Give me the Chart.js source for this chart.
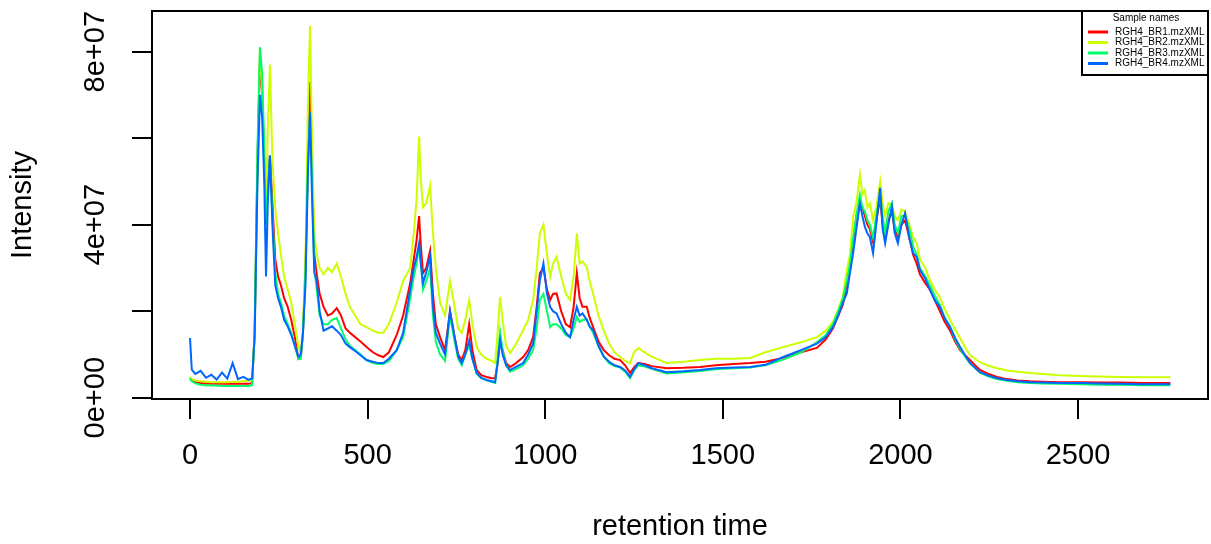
<!DOCTYPE html>
<html>
<head>
<meta charset="utf-8">
<title>Chromatogram</title>
<script src="https://cdn.jsdelivr.net/npm/chart.js@4.4.1/dist/chart.umd.min.js"></script>
<style>
  html, body { margin: 0; padding: 0; background: #fff; }
  canvas { display: block; }
</style>
</head>
<body>
<canvas id="chart" width="1211" height="544"></canvas>
<script>
// retention time in seconds
const retentionTime = [
  0, 5, 15, 30, 45, 60, 75, 90, 105, 120, 135, 150, 165, 175,
  182, 190, 197, 203, 209, 214, 219, 225, 232, 240, 248, 256, 265, 275, 285, 295, 305, 312,
  318, 325, 332, 338, 344, 350, 357, 365, 376, 388, 400, 413, 425, 438, 450, 465, 480, 497, 515, 530, 544, 560, 582, 600,
  620, 630, 638, 645, 650, 656, 665, 676, 684, 692, 704, 718, 732, 745, 755, 765, 775, 786, 795, 807, 820, 835, 850, 859,
  866, 873, 880, 890, 901, 915, 938, 952, 966, 976, 985, 995, 1005, 1014, 1022, 1032, 1045, 1058, 1070, 1080, 1089, 1097, 1105, 1117, 1125, 1135, 1150, 1165, 1180, 1195,
  1211, 1225, 1239, 1250, 1262, 1280, 1300, 1342, 1390, 1436, 1480, 1530, 1577, 1620, 1670, 1720, 1765, 1790, 1810, 1825, 1838, 1849, 1858,
  1867, 1876, 1886, 1893, 1900, 1907, 1914, 1923, 1932, 1943, 1950, 1957, 1966, 1976, 1984, 1993, 2003, 2013, 2025, 2036, 2046, 2055, 2070, 2083,
  2097, 2111, 2125, 2140, 2154, 2168, 2182, 2196, 2210, 2224, 2248, 2272, 2300, 2330, 2365, 2400, 2450, 2506, 2560, 2620, 2680, 2731, 2760
];

// intensities, in units of 1e6
const br1 = [
  4.5, 4.0, 3.6, 3.4, 3.3, 3.2, 3.2, 3.2, 3.2, 3.2, 3.2, 3.2, 3.2, 3.4,
  15, 55, 79, 70, 55, 40, 50, 56, 45, 32, 28, 26, 23, 21, 18, 14, 9, 9.5,
  15, 30, 55, 73, 52, 33, 28.4, 24, 21, 19, 19.5, 20.7, 19, 16, 15, 14, 13, 11.7, 10.5, 9.8, 9.4, 10.5, 14.5, 19,
  26.5, 32, 36.5, 42, 35, 28.8, 30, 34, 24, 17, 14, 11, 20, 14, 10, 8.7, 11, 17, 11, 6.4, 5.2, 4.8, 4.5, 4.5,
  8, 13.5, 11, 8, 7.1, 7.8, 9.4, 11, 14, 21, 28.8, 30, 25, 22.6, 24, 24.1, 20, 17, 16.3, 21, 28.8, 23, 21, 21, 18.5, 16.3, 13, 11, 9.8, 9,
  8.7, 7.5, 5.7, 7, 8, 7.8, 7.3, 6.8, 6.9, 7.1, 7.5, 7.8, 8, 8.3, 9.2, 10.5, 11.5, 13.5, 16, 19, 21.5, 26, 30,
  36, 42, 45, 44, 42, 40, 39, 36, 41, 46, 40, 37, 41, 43, 39, 37, 40, 41, 37, 33, 31, 28.5, 26.5, 25,
  22.5, 20, 17.5, 15.5, 13, 11, 9.8, 8.7, 7.5, 6.4, 5.5, 4.8, 4.3, 4.0, 3.8, 3.7, 3.6, 3.6, 3.5, 3.5, 3.4, 3.4, 3.4
];
const br2 = [
  4.8, 4.3, 4.0, 3.8, 3.7, 3.6, 3.6, 3.6, 3.6, 3.7, 3.7, 3.8, 3.9, 4.0,
  14, 52, 81, 72, 56, 42, 62, 77, 55, 44, 38, 33, 28, 25, 22, 17, 12, 10,
  16, 32, 68, 86, 58, 38, 33, 30, 28.5, 30, 29, 31, 28, 24, 21, 19, 17, 16.3, 15.5, 15, 15, 17, 22, 27,
  30, 38, 46, 60.4, 50, 44, 45, 49, 38, 30, 22, 19, 27, 21, 16, 15, 18, 22.6, 17, 11.7, 10, 9, 8.5, 8,
  15, 23.3, 18, 12, 10.3, 12, 15.6, 18, 22.6, 30, 38, 40, 33, 28, 31, 32.6, 28, 24, 22.6, 28, 38, 31, 31.5, 30.2, 27, 24.1, 19, 15.5, 12.5, 10.5,
  9.4, 8.5, 8, 10.5, 11.5, 10.5, 9.5, 8, 8.3, 8.7, 9, 9, 9.2, 10.5, 11.7, 12.8, 14, 15.5, 17.5, 20.5, 23.5, 29.5, 33,
  41.8, 45, 51.6, 47, 48, 44, 45, 41, 44, 50, 45, 42, 45, 44.5, 42, 41, 43.5, 43, 40, 37, 35.7, 32, 30, 27.2,
  25, 23.3, 20.5, 18, 15.8, 13.8, 11.8, 9.8, 9, 8.2, 7.4, 6.8, 6.3, 6.0, 5.7, 5.5, 5.2, 5.0, 4.9, 4.8, 4.7, 4.7, 4.7
];
const br3 = [
  4.5, 3.8, 3.3, 3.0, 2.9, 2.8, 2.8, 2.7, 2.7, 2.7, 2.7, 2.7, 2.7, 2.9,
  16, 58, 81, 75, 58, 40, 48, 56, 42, 29, 24, 22, 19, 17, 15, 12, 9, 9,
  15, 28, 55, 66, 48, 30, 25, 19, 17, 17, 18, 18.4, 16, 13.5, 12, 11, 10, 8.7, 8, 7.8, 7.8, 8.5, 11, 14,
  23, 28, 31, 35, 31, 25, 27, 30, 19, 13, 10, 8.5, 19, 13, 9, 7.5, 10, 12, 9, 5.5, 4.5, 4.0, 3.6, 3.4,
  9, 15.2, 11, 7.5, 6, 6.5, 7.5, 9, 11, 16, 22.6, 24, 20, 16.3, 17, 17, 16, 14.5, 14, 16, 18.7, 17.5, 18, 18, 16.5, 15, 12, 9.5, 8, 7.3,
  7, 6, 4.5, 6.3, 7.5, 7.2, 6.7, 5.6, 5.9, 6.2, 6.6, 6.8, 7, 7.5, 8.8, 10.5, 12.8, 14.5, 17, 20, 23, 27, 31,
  37, 42, 47, 44, 43, 41, 40, 37, 42, 47, 42, 38, 43, 45, 40, 38, 42, 42, 39, 35, 33, 30, 28, 26,
  23.5, 21.5, 18.5, 16.5, 13.5, 11.3, 9.5, 8, 6.9, 5.8, 4.9, 4.3, 3.9, 3.6, 3.4, 3.3, 3.2, 3.1, 3.0, 3.0, 2.9, 2.9, 2.9
];
const br4 = [
  13.8, 6.5, 5.5, 6.2, 4.6, 5.3, 4.2, 5.8, 4.4, 8.0, 4.3, 4.8, 4.1, 4.5,
  14, 50, 70, 65, 50, 28, 45, 56, 40, 26, 23, 21, 18, 16.5, 14.5, 12, 9.5, 10,
  15, 26, 52, 66, 45, 29, 26.8, 20, 15.5, 16, 16.5, 15.5, 14.5, 12.5, 11.7, 10.8, 9.8, 8.7, 8.3, 8, 8, 9, 11, 15,
  25, 30, 32.6, 35.7, 31, 26.5, 29, 32.6, 21, 15, 12.5, 10, 20, 14, 9.5, 8, 10, 13.3, 9, 5.7, 4.6, 4.1, 3.8, 3.6,
  8, 13.3, 10, 7.5, 6.4, 7, 8, 10, 12.5, 20, 27.2, 31, 24, 21, 20, 19.5, 17, 15, 14, 18, 21, 19, 19.5, 18, 16.5, 15.6, 12, 9.5, 8.3, 7.5,
  7.1, 6.3, 4.8, 6.5, 8, 7.5, 6.8, 5.9, 6.1, 6.4, 6.8, 7, 7.1, 7.6, 9.4, 11, 12.5, 14, 16.3, 19, 22, 24.1, 28.8,
  33.4, 39, 45, 42, 39.5, 38, 37.2, 33.4, 40, 48.5, 39, 35.7, 40, 44.2, 38, 35.7, 40, 42.7, 37, 33.4, 32.6, 29.5, 27.5, 25,
  22.5, 21, 18.3, 16.3, 13.8, 11.7, 9.8, 8, 6.9, 5.9, 5.1, 4.5, 4.1, 3.8, 3.6, 3.5, 3.4, 3.4, 3.3, 3.2, 3.1, 3.1, 3.1
];

const sampleNames = ['RGH4_BR1.mzXML', 'RGH4_BR2.mzXML', 'RGH4_BR3.mzXML', 'RGH4_BR4.mzXML'];
const sampleColors = ['#FF0000', '#CCFF00', '#00FF66', '#0066FF'];
const xTicks = [0, 500, 1000, 1500, 2000, 2500];
const yTicks = [0, 20, 40, 60, 80];
const yTickLabels = ['0e+00', '', '4e+07', '', '8e+07'];

const FONT = '"Liberation Sans", Arial, sans-serif';
const series = [br1, br2, br3, br4];

// box round the plot, rotated y labels (R style) and the legend
const framePlugin = {
  id: 'frame',
  afterDraw(chart) {
    const { ctx, chartArea: a } = chart;
    const yScale = chart.scales.y;
    ctx.save();
    ctx.strokeStyle = '#000';
    ctx.lineWidth = 2;
    ctx.strokeRect(a.left, a.top, a.right - a.left, a.bottom - a.top);

    ctx.fillStyle = '#000';
    ctx.font = '29px ' + FONT;
    ctx.textAlign = 'center';
    ctx.textBaseline = 'middle';
    yTicks.forEach((v, i) => {
      if (!yTickLabels[i]) return;
      ctx.save();
      ctx.translate(96, yScale.getPixelForValue(v));
      ctx.rotate(-Math.PI / 2);
      ctx.fillText(yTickLabels[i], 0, 0);
      ctx.restore();
    });

    const lw = 126, lh = 64;
    const lx = a.right - lw, ly = a.top;
    ctx.fillStyle = '#fff';
    ctx.fillRect(lx, ly, lw, lh);
    ctx.strokeRect(lx, ly, lw, lh);
    ctx.fillStyle = '#000';
    ctx.font = '10px ' + FONT;
    ctx.fillText('Sample names', lx + 64, ly + 7.5);
    ctx.textAlign = 'left';
    sampleNames.forEach((name, i) => {
      const y = ly + 21 + i * 10.5;
      ctx.strokeStyle = sampleColors[i];
      ctx.lineWidth = 3;
      ctx.beginPath();
      ctx.moveTo(lx + 6, y);
      ctx.lineTo(lx + 26, y);
      ctx.stroke();
      ctx.fillText(name, lx + 33, y);
    });
    ctx.restore();
  }
};

new Chart(document.getElementById('chart'), {
  type: 'line',
  data: {
    datasets: series.map((s, i) => ({
      label: sampleNames[i],
      data: retentionTime.map((t, k) => ({ x: t, y: s[k] })),
      borderColor: sampleColors[i],
      borderWidth: 2,
      pointRadius: 0,
      tension: 0,
      order: series.length - i,
    }))
  },
  options: {
    responsive: false,
    animation: false,
    devicePixelRatio: 1,
    layout: { padding: { top: 11, right: 3, left: 0, bottom: 0 } },
    plugins: {
      legend: { display: false },
      tooltip: { enabled: false },
    },
    scales: {
      x: {
        type: 'linear',
        min: -107,
        max: 2866,
        afterBuildTicks: (s) => { s.ticks = xTicks.map(v => ({ value: v })); },
        afterFit: (s) => { s.height = 145; },
        grid: { drawOnChartArea: false, color: '#000', lineWidth: 2, tickLength: 20 },
        border: { display: false },
        ticks: {
          color: '#000',
          font: { size: 29, family: FONT },
          padding: 19.5,
          maxRotation: 0,
          autoSkip: false,
          callback: (v) => String(v),
        },
        title: {
          display: true,
          text: 'retention time',
          color: '#000',
          font: { size: 29, family: FONT },
          padding: 0,
        },
      },
      y: {
        type: 'linear',
        min: -0.3,
        max: 89.4,
        afterBuildTicks: (s) => { s.ticks = yTicks.map(v => ({ value: v })); },
        afterFit: (s) => { s.width = 152; },
        grid: { drawOnChartArea: false, color: '#000', lineWidth: 2, tickLength: 20 },
        border: { display: false },
        ticks: { display: false },
        title: {
          display: true,
          text: 'Intensity',
          color: '#000',
          font: { size: 29, family: FONT },
          padding: { top: 6, bottom: 0 },
        },
      },
    },
  },
  plugins: [framePlugin],
});
</script>
</body>
</html>
